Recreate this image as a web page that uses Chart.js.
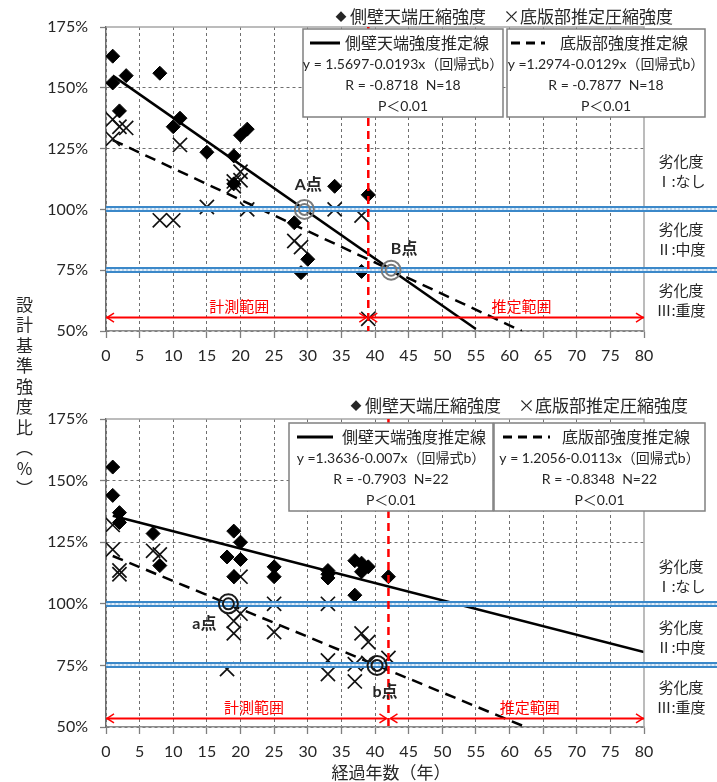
<!DOCTYPE html>
<html>
<head>
<meta charset="utf-8">
<script src="https://cdn.jsdelivr.net/npm/chart.js@4.4.1/dist/chart.umd.min.js"></script>
<style>
html, body { margin: 0; padding: 0; background: #fff; }
#wrap { position: relative; width: 717px; height: 782px; overflow: hidden; }
#wrap canvas { position: absolute; left: 0; }
#c1 { top: 0; }
#c2 { top: 390px; }
#ytitle {
    position: absolute; left: 12px; top: 296px;
    writing-mode: vertical-rl; text-orientation: upright;
    font: 17px "Noto Sans CJK JP"; letter-spacing: 3.5px; color: #262626;
}
</style>
</head>
<body>
<div id="wrap">
    <canvas id="c1" width="717" height="390" style="width:717px;height:390px"></canvas>
    <canvas id="c2" width="717" height="392" style="width:717px;height:392px"></canvas>
    <div id="ytitle">設計基準強度比（%）</div>
</div>
<script>
// 上段（N=18）
const topWallX = [1, 1, 3, 8, 2, 10, 11, 15, 19, 20, 21, 19, 34, 39, 28, 30, 29, 38];
const topWallY = [163, 152, 155, 156, 140.5, 134, 137.5, 123.5, 122, 130.5, 133, 110.5, 109.5, 106, 94.5, 79.5, 74, 74.5];
const topSlabX = [1, 1, 2, 3, 11, 19, 20, 19, 20, 15, 8, 10, 21, 34, 38, 28, 29, 39];
const topSlabY = [137, 129, 134, 133.5, 126.5, 111.5, 115.5, 109.5, 112, 101, 95.5, 95.5, 100, 100, 97.5, 87, 84.5, 55];
const topWallLineX = [1, 55];
const topWallLineY = [155.0, 50.8];
const topSlabLineX = [1, 61.8];
const topSlabLineY = [128.5, 50];
const topMarkX = [29.5, 42.4];
const topMarkY = [100, 75];
const topMarkNames = ['A点', 'B点'];

// 下段（N=22）
const botWallX = [1, 1, 2, 2, 7, 8, 18, 19, 20, 20, 19, 25, 25, 33, 33, 37, 38, 39, 38, 37, 42, 33];
const botWallY = [155.5, 144, 137, 133, 128.5, 115.5, 119, 129.5, 125, 118, 111, 115, 111, 113.5, 110.5, 117.5, 116.5, 115, 113, 103.5, 111, 112];
const botSlabX = [1, 1, 2, 2, 7, 8, 20, 20, 19, 19, 18, 25, 25, 33, 33, 33, 38, 39, 37, 37, 42, 39];
const botSlabY = [132, 122, 113.5, 112, 121.5, 120, 111, 96, 93, 88, 73.5, 100, 88.5, 100, 77, 71.5, 88, 84.5, 75.5, 68.5, 78, 76];
const botWallLineX = [1, 80];
const botWallLineY = [135.7, 80.4];
const botSlabLineX = [1, 62.4];
const botSlabLineY = [119.4, 50];
const botMarkX = [18.2, 40.3];
const botMarkY = [100, 75];
const botMarkNames = ['a点', 'b点'];

// 劣化度の境界と軸
const levelLines = [100, 75];
const levelLabels = [['劣化度', 'Ⅰ:なし'], ['劣化度', 'Ⅱ:中度'], ['劣化度', 'Ⅲ:重度']];
const rangeLabels = ['計測範囲', '推定範囲'];
const seriesMark = '◆';
const seriesLegend = '側壁天端圧縮強度　×底版部推定圧縮強度';
const wallLineName = '側壁天端強度推定線';
const slabLineName = '底版部強度推定線';
const topStats = [
    ['y = 1.5697-0.0193x（回帰式b）', 'R = -0.8718  N=18', 'P＜0.01'],
    ['y =1.2974-0.0129x（回帰式b）', 'R = -0.7877  N=18', 'P＜0.01']
];
const botStats = [
    ['y =1.3636-0.007x（回帰式b）', 'R = -0.7903  N=22', 'P＜0.01'],
    ['y = 1.2056-0.0113x（回帰式b）', 'R = -0.8348  N=22', 'P＜0.01']
];
const xTitle = '経過年数（年）';

const JP = '"Noto Sans CJK JP"';
const LAT = 'Lato, "Noto Sans CJK JP"';

function pts(xs, ys) {
    return xs.map((v, i) => ({ x: v, y: ys[i] }));
}

function line(ctx, x1, y1, x2, y2) {
    ctx.beginPath();
    ctx.moveTo(x1, y1);
    ctx.lineTo(x2, y2);
    ctx.stroke();
}

function arrowHead(ctx, px, py, dir) {
    ctx.beginPath();
    ctx.moveTo(px - dir * 7, py - 4.5);
    ctx.lineTo(px, py);
    ctx.lineTo(px - dir * 7, py + 4.5);
    ctx.stroke();
}

// 凡例ボックス、劣化度の線、範囲矢印などを描く
const extras = {
    id: 'extras',
    afterDraw(chart, args, o) {
        const { ctx, chartArea: a, scales: { x, y } } = chart;
        const W = chart.width;
        ctx.save();

        // 上・右の枠
        ctx.setLineDash([]);
        ctx.strokeStyle = '#a6a6a6';
        ctx.lineWidth = 1.5;
        ctx.beginPath();
        ctx.moveTo(a.left, a.top);
        ctx.lineTo(a.right, a.top);
        ctx.lineTo(a.right, a.bottom);
        ctx.stroke();

        // 劣化度の境界（青の二重線）
        levelLines.forEach(v => {
            const py = Math.round(y.getPixelForValue(v));
            ctx.fillStyle = '#3b88c9';
            ctx.fillRect(a.left, py - 3, W - a.left, 6);
            ctx.fillStyle = '#e4f0fa';
            ctx.fillRect(a.left, py - 1, W - a.left, 2);
            ctx.strokeStyle = '#8fb7dc';
            ctx.lineWidth = 1;
            ctx.setLineDash([2, 2]);
            line(ctx, a.left, py, W, py);
        });
        ctx.setLineDash([]);

        // 計測範囲の区切り（赤の破線）
        const sx = x.getPixelForValue(o.split);
        ctx.strokeStyle = '#ff0000';
        ctx.lineWidth = 2.5;
        ctx.setLineDash([8, 5]);
        line(ctx, sx, a.top, sx, a.bottom);
        ctx.setLineDash([]);

        // 範囲の矢印
        const ay = y.getPixelForValue(o.arrowV);
        const x0 = x.getPixelForValue(0), x80 = x.getPixelForValue(80);
        ctx.lineWidth = 2;
        line(ctx, x0, ay, sx - 2, ay);
        line(ctx, sx + 2, ay, x80, ay);
        ctx.lineWidth = 1.5;
        arrowHead(ctx, x0 + 1, ay, -1);
        arrowHead(ctx, sx - 2, ay, 1);
        arrowHead(ctx, sx + 2, ay, -1);
        arrowHead(ctx, x80 - 1, ay, 1);
        ctx.fillStyle = '#ff0000';
        ctx.font = '15px ' + JP;
        ctx.textAlign = 'center';
        ctx.textBaseline = 'middle';
        ctx.fillText(rangeLabels[0], x.getPixelForValue(o.rangeLabelX[0]), ay - 11);
        ctx.fillText(rangeLabels[1], x.getPixelForValue(o.rangeLabelX[1]), ay - 11);

        // ◎ 印と名前
        o.markX.forEach((mx, i) => {
            const px = x.getPixelForValue(mx), py = y.getPixelForValue(o.markY[i]);
            ctx.strokeStyle = o.markColor;
            ctx.lineWidth = 2;
            ctx.beginPath(); ctx.arc(px, py, 9.5, 0, Math.PI * 2); ctx.stroke();
            ctx.beginPath(); ctx.arc(px, py, 5.5, 0, Math.PI * 2); ctx.stroke();
            ctx.fillStyle = '#262626';
            ctx.font = 'bold 16px ' + LAT;
            ctx.fillText(o.markNames[i], px + o.markDX[i], py + o.markDY[i]);
        });

        // 右側の劣化度ラベル
        ctx.fillStyle = '#262626';
        ctx.font = '15px ' + JP;
        levelLabels.forEach((pair, i) => {
            ctx.fillText(pair[0], 681, o.levelLabelY[i]);
            ctx.fillText(pair[1], 681, o.levelLabelY[i] + 20);
        });

        // 系列の凡例
        ctx.font = '11px ' + JP;
        ctx.fillText(seriesMark, o.legendX - 9, o.legendY);
        ctx.textAlign = 'left';
        ctx.font = '17px ' + JP;
        ctx.fillText(seriesLegend, o.legendX, o.legendY);

        // 推定線の凡例ボックス
        o.boxes.forEach((b, i) => {
            ctx.fillStyle = '#fff';
            ctx.fillRect(b.x, b.y, b.w, b.h);
            ctx.strokeStyle = '#808080';
            ctx.lineWidth = 1.5;
            ctx.strokeRect(b.x, b.y, b.w, b.h);
            const ly = b.y + 14;
            ctx.strokeStyle = '#000';
            ctx.lineWidth = 3;
            ctx.setLineDash(i === 0 ? [] : [9, 6]);
            line(ctx, b.sx1, ly, b.sx2, ly);
            ctx.setLineDash([]);
            ctx.fillStyle = '#262626';
            ctx.textAlign = 'left';
            ctx.font = '16px ' + JP;
            ctx.fillText(i === 0 ? wallLineName : slabLineName, b.tx, ly);
            ctx.textAlign = 'center';
            ctx.font = '14px ' + LAT;
            o.stats[i].forEach((s, k) => {
                ctx.fillText(s, b.x + b.w / 2, ly + 21 * (k + 1));
            });
        });

        if (o.xTitle) {
            ctx.textAlign = 'center';
            ctx.font = '17px ' + JP;
            ctx.fillText(o.xTitle, 391, o.xTitleY);
        }
        ctx.restore();
    }
};

function makeChart(id, d) {
    return new Chart(document.getElementById(id), {
        type: 'scatter',
        data: {
            datasets: [
                {
                    label: '側壁天端圧縮強度',
                    data: pts(d.wallX, d.wallY),
                    pointStyle: 'rectRot',
                    pointRadius: 7,
                    backgroundColor: '#000',
                    borderColor: '#000',
                    borderWidth: 1
                },
                {
                    label: '底版部推定圧縮強度',
                    data: pts(d.slabX, d.slabY),
                    pointStyle: 'crossRot',
                    pointRadius: 10,
                    borderColor: '#111',
                    borderWidth: 1.7
                },
                {
                    label: wallLineName,
                    data: pts(d.wallLineX, d.wallLineY),
                    showLine: true,
                    pointRadius: 0,
                    borderColor: '#000',
                    borderWidth: 2.5
                },
                {
                    label: slabLineName,
                    data: pts(d.slabLineX, d.slabLineY),
                    showLine: true,
                    pointRadius: 0,
                    borderColor: '#000',
                    borderWidth: 2.5,
                    borderDash: [11, 7]
                }
            ]
        },
        options: {
            responsive: false,
            animation: false,
            events: [],
            layout: { padding: { left: 0, right: 73, top: d.padTop, bottom: 0 } },
            plugins: {
                legend: { display: false },
                tooltip: { enabled: false },
                extras: d.extras
            },
            scales: {
                x: {
                    type: 'linear',
                    min: 0, max: 80,
                    afterFit: s => { s.height = d.xAxisH; },
                    ticks: {
                        stepSize: 5, autoSkip: false, maxRotation: 0,
                        color: '#262626', padding: 8,
                        font: { family: 'Lato', size: 16 }
                    },
                    grid: {
                        color: c => (c.tick && c.tick.value === 80) ? 'rgba(0,0,0,0)' : '#6f6f6f',
                        lineWidth: 1, tickLength: 7, tickColor: '#7f7f7f', tickWidth: 1.3
                    },
                    border: { display: true, color: '#8c8c8c', width: 1.5, dash: [3, 3] }
                },
                y: {
                    min: 50, max: 175,
                    afterFit: s => { s.width = 106; },
                    ticks: {
                        stepSize: 25, color: '#262626', padding: 12,
                        font: { family: 'Lato', size: 16 },
                        callback: v => v + '%'
                    },
                    grid: {
                        color: c => (c.tick && [175, 100, 75].includes(c.tick.value)) ? 'rgba(0,0,0,0)' : '#6f6f6f',
                        lineWidth: 1, tickLength: 6, tickColor: '#7f7f7f', tickWidth: 1.3
                    },
                    border: { display: true, color: '#6f6f6f', width: 1.5, dash: [3, 3] }
                }
            }
        },
        plugins: [extras]
    });
}

makeChart('c1', {
    wallX: topWallX, wallY: topWallY, slabX: topSlabX, slabY: topSlabY,
    wallLineX: topWallLineX, wallLineY: topWallLineY,
    slabLineX: topSlabLineX, slabLineY: topSlabLineY,
    padTop: 27, xAxisH: 59,
    extras: {
        split: 39, arrowV: 55.5, rangeLabelX: [19.8, 61.8],
        markX: topMarkX, markY: topMarkY, markNames: topMarkNames,
        markColor: '#7a7a7a', markDX: [4, 13], markDY: [-25, -21],
        levelLabelY: [161, 229, 290],
        legendX: 350, legendY: 17,
        boxes: [
            { x: 303, y: 29, w: 200, h: 88, sx1: 310, sx2: 340, tx: 345 },
            { x: 507, y: 29, w: 198, h: 88, sx1: 511, sx2: 545, tx: 560 }
        ],
        stats: topStats
    }
});

makeChart('c2', {
    wallX: botWallX, wallY: botWallY, slabX: botSlabX, slabY: botSlabY,
    wallLineX: botWallLineX, wallLineY: botWallLineY,
    slabLineX: botSlabLineX, slabLineY: botSlabLineY,
    padTop: 29, xAxisH: 55,
    extras: {
        split: 42, arrowV: 53.5, rangeLabelX: [22, 63],
        markX: botMarkX, markY: botMarkY, markNames: botMarkNames,
        markColor: '#1a1a1a', markDX: [-24, 8], markDY: [20, 26],
        levelLabelY: [176, 237, 297],
        legendX: 365, legendY: 16,
        boxes: [
            { x: 289, y: 33, w: 204, h: 88, sx1: 297, sx2: 333, tx: 342 },
            { x: 494, y: 33, w: 211, h: 88, sx1: 503, sx2: 550, tx: 562 }
        ],
        stats: botStats,
        xTitle: xTitle, xTitleY: 383
    }
});
</script>
</body>
</html>
